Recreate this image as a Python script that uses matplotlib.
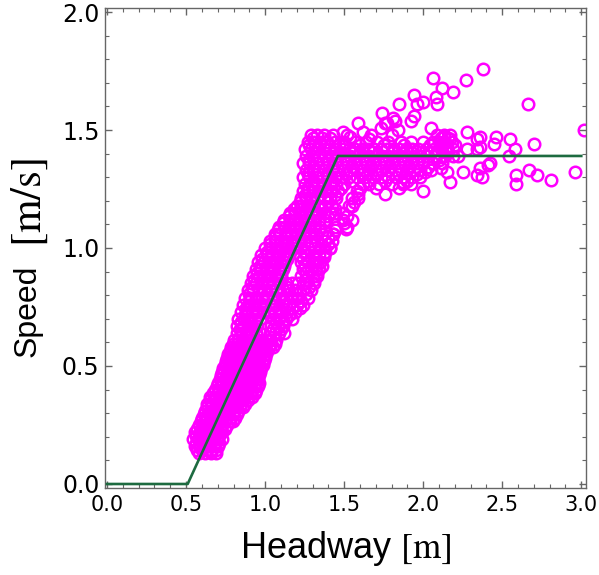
import matplotlib
matplotlib.use("Agg")
import matplotlib.pyplot as plt
from matplotlib.ticker import MultipleLocator, FormatStrFormatter

plt.rcParams['font.family'] = ['Liberation Sans', 'DejaVu Sans']
plt.rcParams['mathtext.fontset'] = 'stix'

# ---- fitted optimal-velocity line ----
line_x = [0.0, 0.51, 1.46, 3.0]
line_y = [0.0, 0.0, 1.39, 1.39]

# ---- rising branch (rows of equal speed, headways) ----
rise_rows = [
    (0.13, [0.58, 0.62, 0.66, 0.69]),
    (0.145, [0.57, 0.60, 0.63, 0.66, 0.69]),
    (0.16, [0.555, 0.585, 0.615, 0.645, 0.675, 0.705]),
    (0.175, [0.56, 0.59, 0.62, 0.65, 0.68, 0.71]),
    (0.19, [0.545, 0.575, 0.605, 0.635, 0.665, 0.695, 0.725]),
    (0.205, [0.56, 0.59, 0.62, 0.65, 0.68, 0.71]),
    (0.22, [0.555, 0.585, 0.615, 0.645, 0.675, 0.705, 0.73]),
    (0.235, [0.57, 0.60, 0.63, 0.66, 0.69, 0.72, 0.745]),
    (0.25, [0.58, 0.61, 0.64, 0.67, 0.70, 0.73, 0.76]),
    (0.265, [0.595, 0.625, 0.655, 0.685, 0.715, 0.745, 0.775, 0.795]),
    (0.28, [0.60, 0.63, 0.66, 0.69, 0.72, 0.75, 0.78, 0.81]),
    (0.295, [0.615, 0.645, 0.675, 0.705, 0.735, 0.765, 0.795, 0.82]),
    (0.31, [0.62, 0.65, 0.68, 0.71, 0.74, 0.77, 0.80, 0.83]),
    (0.325, [0.63, 0.66, 0.69, 0.72, 0.75, 0.78, 0.81, 0.84, 0.86]),
    (0.34, [0.635, 0.665, 0.695, 0.725, 0.755, 0.785, 0.815, 0.845, 0.875]),
    (0.355, [0.65, 0.68, 0.71, 0.74, 0.77, 0.80, 0.83, 0.86, 0.89]),
    (0.37, [0.65, 0.68, 0.71, 0.74, 0.77, 0.80, 0.83, 0.86, 0.89, 0.92]),
    (0.385, [0.67, 0.70, 0.73, 0.76, 0.79, 0.82, 0.85, 0.88, 0.91, 0.935]),
    (0.40, [0.68, 0.71, 0.74, 0.77, 0.80, 0.83, 0.86, 0.89, 0.92, 0.945]),
    (0.415, [0.695, 0.725, 0.755, 0.785, 0.815, 0.845, 0.875, 0.905, 0.935, 0.955]),
    (0.43, [0.70, 0.73, 0.76, 0.79, 0.82, 0.85, 0.88, 0.91, 0.94, 0.96]),
    (0.445, [0.715, 0.745, 0.775, 0.805, 0.835, 0.865, 0.895, 0.925, 0.955]),
    (0.46, [0.72, 0.75, 0.78, 0.81, 0.84, 0.87, 0.90, 0.93, 0.96]),
    (0.475, [0.73, 0.76, 0.79, 0.82, 0.85, 0.88, 0.91, 0.94, 0.97]),
    (0.49, [0.735, 0.765, 0.795, 0.825, 0.855, 0.885, 0.915, 0.945, 0.975]),
    (0.505, [0.745, 0.775, 0.805, 0.835, 0.865, 0.895, 0.925, 0.955, 0.985]),
    (0.52, [0.75, 0.78, 0.81, 0.84, 0.87, 0.90, 0.93, 0.96, 0.99]),
    (0.535, [0.76, 0.79, 0.82, 0.85, 0.88, 0.91, 0.94, 0.97, 1.0]),
    (0.55, [0.765, 0.795, 0.825, 0.855, 0.885, 0.915, 0.945, 0.975, 1.005]),
    (0.565, [0.78, 0.81, 0.84, 0.87, 0.90, 0.93, 0.96, 0.99, 1.015]),
    (0.58, [0.785, 0.815, 0.845, 0.875, 0.905, 0.935, 0.965, 0.995, 1.025, 1.05]),
    (0.595, [0.795, 0.825, 0.855, 0.885, 0.915, 0.945, 0.975, 1.005, 1.035, 1.06]),
    (0.61, [0.80, 0.83, 0.86, 0.89, 0.92, 0.95, 0.98, 1.01, 1.04, 1.07]),
    (0.64, [0.82, 0.85, 0.88, 0.91, 0.94, 0.97, 1.03, 1.06, 1.09, 1.12]),
    (0.67, [0.825, 0.86, 0.89, 0.92, 0.95, 1.04, 1.08, 1.11]),
    (0.70, [0.83, 0.865, 0.90, 0.935, 0.965, 1.05, 1.09, 1.13, 1.17]),
    (0.73, [0.845, 0.88, 0.915, 0.95, 0.985, 1.02, 1.06, 1.10, 1.14, 1.19]),
    (0.76, [0.86, 0.895, 0.93, 0.965, 1.00, 1.035, 1.07, 1.11, 1.15, 1.20, 1.24]),
    (0.79, [0.875, 0.91, 0.945, 0.98, 1.015, 1.05, 1.09, 1.13, 1.17, 1.21, 1.27]),
    (0.82, [0.89, 0.925, 0.96, 0.995, 1.03, 1.07, 1.11, 1.15, 1.19, 1.24, 1.29]),
    (0.85, [0.91, 0.945, 0.98, 1.015, 1.05, 1.09, 1.13, 1.17, 1.21, 1.26, 1.31]),
    (0.88, [0.925, 0.96, 0.995, 1.03, 1.065, 1.10, 1.23, 1.27, 1.30, 1.33]),
    (0.91, [0.94, 0.975, 1.01, 1.045, 1.08, 1.11, 1.24, 1.29, 1.32, 1.34]),
    (0.94, [0.955, 0.99, 1.025, 1.06, 1.095, 1.125, 1.23, 1.27, 1.31, 1.35]),
    (0.97, [0.975, 1.01, 1.045, 1.08, 1.115, 1.15, 1.22, 1.26, 1.30, 1.34, 1.37]),
    (1.00, [1.00, 1.035, 1.07, 1.105, 1.14, 1.18, 1.23, 1.27, 1.31, 1.35, 1.41]),
    (1.03, [1.03, 1.065, 1.10, 1.135, 1.17, 1.21, 1.25, 1.29, 1.33, 1.38, 1.42]),
    (1.06, [1.06, 1.095, 1.13, 1.165, 1.20, 1.24, 1.28, 1.32, 1.36, 1.43]),
    (1.09, [1.09, 1.125, 1.16, 1.195, 1.23, 1.27, 1.31, 1.35, 1.45, 1.52]),
    (1.12, [1.12, 1.155, 1.19, 1.225, 1.26, 1.30, 1.34, 1.38, 1.49, 1.55]),
    (1.15, [1.16, 1.19, 1.22, 1.255, 1.29, 1.33, 1.37, 1.41, 1.44, 1.49]),
    (1.18, [1.20, 1.23, 1.265, 1.30, 1.34, 1.38, 1.42, 1.55]),
    (1.21, [1.23, 1.26, 1.29, 1.33, 1.37, 1.41, 1.45, 1.55, 1.59]),
    (1.24, [1.24, 1.27, 1.30, 1.34, 1.38, 1.42, 1.46, 1.58]),
]

# in-between points of the upper rising branch
rise_extra_rows = [
    (0.655, [0.84, 0.93, 1.05, 1.10]),
    (0.685, [0.85, 0.91, 1.07, 1.12]),
    (0.715, [0.87, 0.95, 1.04, 1.15]),
    (0.745, [0.88, 0.98, 1.09, 1.17, 1.22]),
    (0.775, [0.90, 0.99, 1.12, 1.23]),
    (0.805, [0.90, 1.01, 1.10, 1.20, 1.26]),
    (0.835, [0.92, 1.04, 1.14, 1.28]),
    (0.865, [0.93, 1.02, 1.08, 1.25, 1.31]),
    (0.895, [0.95, 1.04, 1.10, 1.26, 1.33]),
    (0.925, [0.97, 1.05, 1.12, 1.25, 1.36]),
    (0.955, [0.98, 1.07, 1.14, 1.24, 1.32]),
    (0.985, [1.01, 1.09, 1.16, 1.25, 1.38]),
    (1.015, [1.03, 1.12, 1.19, 1.29, 1.40]),
    (1.045, [1.06, 1.14, 1.22, 1.31, 1.40]),
    (1.075, [1.08, 1.18, 1.26, 1.34, 1.44]),
    (1.105, [1.11, 1.21, 1.29, 1.37, 1.50]),
    (1.135, [1.15, 1.24, 1.32, 1.40, 1.52]),
    (1.165, [1.18, 1.27, 1.36, 1.44]),
    (1.195, [1.22, 1.31, 1.40, 1.56]),
    (1.225, [1.25, 1.35, 1.44]),
]

# ---- plateau (free-flow) rows ----
plateau_rows = [
    (1.27, [1.25, 1.29, 1.33, 1.37, 1.41, 1.45, 1.50, 1.62, 1.66, 1.72, 1.80, 1.87, 1.92]),
    (1.30, [1.24, 1.28, 1.32, 1.36, 1.40, 1.44, 1.48, 1.53, 1.58, 1.63, 1.68, 1.73, 1.78,
            1.83, 1.88, 1.93, 1.98]),
    (1.33, [1.26, 1.30, 1.34, 1.38, 1.42, 1.46, 1.50, 1.54, 1.58, 1.62, 1.66, 1.70, 1.74,
            1.78, 1.82, 1.86, 1.90, 1.94, 1.98, 2.05]),
    (1.36, [1.24, 1.28, 1.32, 1.36, 1.40, 1.44, 1.48, 1.52, 1.56, 1.60, 1.64, 1.68, 1.72,
            1.76, 1.80, 1.84, 1.88, 1.92, 1.96, 2.00, 2.06, 2.12]),
    (1.39, [1.26, 1.30, 1.34, 1.38, 1.42, 1.46, 1.50, 1.54, 1.58, 1.62, 1.66, 1.70, 1.74,
            1.78, 1.82, 1.86, 1.90, 1.94, 1.98, 2.03, 2.08, 2.14, 2.19]),
    (1.42, [1.25, 1.29, 1.33, 1.37, 1.41, 1.45, 1.49, 1.53, 1.57, 1.61, 1.65, 1.69, 1.73,
            1.77, 1.81, 1.85, 1.89, 1.93, 1.97, 2.02, 2.07, 2.11, 2.15, 2.19]),
    (1.45, [1.27, 1.31, 1.35, 1.39, 1.44, 1.50, 1.57, 1.64, 1.71, 1.78, 1.86, 1.92, 2.00,
            2.06, 2.10, 2.14, 2.18]),
    (1.48, [1.29, 1.33, 1.37, 1.43, 1.52, 1.67, 1.80, 2.09, 2.13, 2.17]),
]

plateau_extra_rows = [
    (1.255, [1.27, 1.36, 1.48, 1.60, 1.70, 1.85]),
    (1.285, [1.30, 1.42, 1.55, 1.65, 1.76, 1.90]),
    (1.315, [1.27, 1.39, 1.51, 1.61, 1.71, 1.85, 1.96]),
    (1.345, [1.30, 1.43, 1.55, 1.67, 1.79, 1.91, 2.03]),
    (1.375, [1.28, 1.40, 1.52, 1.64, 1.76, 1.88, 2.00, 2.10]),
    (1.405, [1.31, 1.44, 1.56, 1.68, 1.80, 1.92, 2.05, 2.16]),
    (1.435, [1.28, 1.38, 1.47, 1.60, 1.75, 1.88, 2.04, 2.12, 2.20]),
    (1.465, [1.30, 1.36, 1.41, 2.11, 2.16]),
]

# ---- scattered individual points ----
sparse_x = [2.38, 2.27, 2.06, 2.12, 2.19, 1.94, 2.08, 2.00, 1.85, 1.96, 2.09, 1.74,
            1.94, 1.92, 1.82, 1.76, 1.59, 1.73, 1.84, 2.05, 2.28, 2.34, 2.46, 2.45,
            2.55, 2.58, 2.70, 2.54, 2.42, 2.37, 2.59, 2.59, 2.67, 2.72, 2.81, 2.96,
            2.66, 3.02, 2.36, 2.36, 2.36, 1.49, 1.54, 1.62, 1.66, 2.13, 2.17, 2.15,
            2.22, 2.28, 2.34, 2.41, 2.11, 2.15, 2.25, 2.17, 2.34, 2.01, 2.00, 1.76,
            1.59, 1.87, 1.81, 1.77, 1.49, 1.53, 1.51, 1.43, 1.41, 1.37, 1.35]
sparse_y = [1.76, 1.71, 1.72, 1.68, 1.66, 1.65, 1.64, 1.62, 1.61, 1.61, 1.61, 1.57,
            1.56, 1.54, 1.54, 1.53, 1.53, 1.51, 1.50, 1.51, 1.49, 1.46, 1.47, 1.44,
            1.46, 1.42, 1.44, 1.39, 1.36, 1.30, 1.31, 1.27, 1.33, 1.31, 1.29, 1.32,
            1.61, 1.50, 1.47, 1.43, 1.34, 1.49, 1.47, 1.49, 1.46, 1.47, 1.46, 1.43,
            1.39, 1.42, 1.42, 1.35, 1.34, 1.32, 1.32, 1.28, 1.31, 1.32, 1.24, 1.23,
            1.23, 1.28, 1.55, 1.53, 1.44, 1.18, 1.08, 1.06, 1.00, 0.96, 0.94]

headway = []
speed = []
for yv, xs in rise_rows + rise_extra_rows + plateau_rows + plateau_extra_rows:
    headway.extend(xs)
    speed.extend([yv] * len(xs))
headway.extend(sparse_x)
speed.extend(sparse_y)

fig = plt.figure(figsize=(5.99, 5.75), dpi=100)
ax = fig.add_axes([0.1753, 0.1513, 0.803, 0.8348])

ax.plot(headway, speed, linestyle='none', marker='o', markersize=8.3,
        markerfacecolor='none', markeredgecolor='#FF00FF', markeredgewidth=1.8,
        zorder=2)
ax.plot(line_x, line_y, color='#1d6b40', linewidth=1.9, zorder=3)

ax.set_xlim(-0.013, 3.03)
ax.set_ylim(-0.017, 2.017)

ax.xaxis.set_major_locator(MultipleLocator(0.5))
ax.xaxis.set_minor_locator(MultipleLocator(0.1))
ax.yaxis.set_major_locator(MultipleLocator(0.5))
ax.yaxis.set_minor_locator(MultipleLocator(0.1))
ax.xaxis.set_major_formatter(FormatStrFormatter('%.1f'))
ax.yaxis.set_major_formatter(FormatStrFormatter('%.1f'))

spine_col = '#666666'
for s in ax.spines.values():
    s.set_color(spine_col)
    s.set_linewidth(1.0)

ax.tick_params(which='both', direction='in', top=True, right=True, color=spine_col)
ax.tick_params(which='major', length=5, width=1.0)
ax.tick_params(which='minor', length=3, width=0.8)
ax.tick_params(axis='x', which='major', labelsize=15, pad=5)
ax.tick_params(axis='y', which='major', labelsize=17, pad=4)
for lab in ax.get_xticklabels() + ax.get_yticklabels():
    lab.set_family('DejaVu Sans')

ax.set_xlabel(r'Headway $[\mathrm{m}]$', fontsize=26, labelpad=10)

# y-axis title drawn in two parts (sans word, larger serif unit)
fig.text(0.046, 1 - 311 / 575, 'Speed', fontsize=23, rotation=90,
         ha='center', va='center')
fig.text(0.049, 1 - 203 / 575, r'$[\mathrm{m/s}]$', fontsize=31,
         rotation=90, ha='center', va='center')

fig.savefig('out.png', dpi=100)
